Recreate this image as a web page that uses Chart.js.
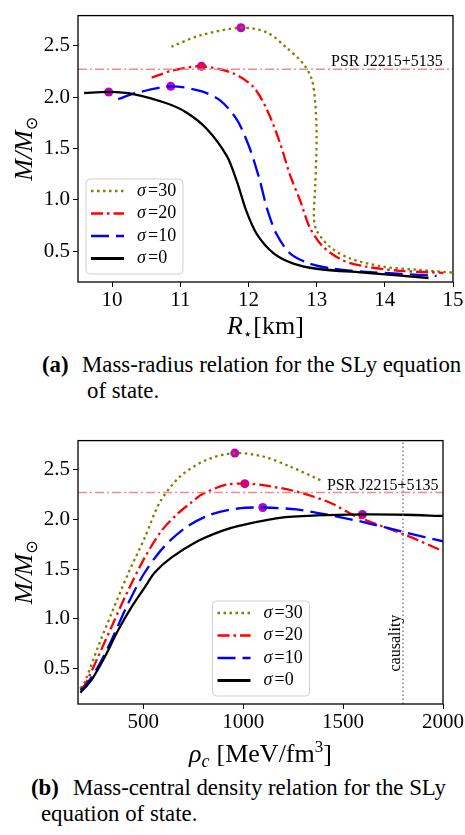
<!DOCTYPE html>
<html>
<head>
<meta charset="utf-8">
<script src="https://cdn.jsdelivr.net/npm/chart.js@4.4.0/dist/chart.umd.min.js"></script>
<style>
  body { margin: 0; width: 465px; height: 835px; background: #fff; overflow: hidden; position: relative; font-family: "Liberation Serif", serif; }
  canvas { position: absolute; left: 0; }
  .cap { position: absolute; font-size: 22.8px; line-height: 26px; white-space: nowrap; color: #000; }
</style>
</head>
<body>
<canvas id="mr" width="465" height="345" style="top:0"></canvas>
<canvas id="mrho" width="465" height="345" style="top:425px"></canvas>

<div class="cap" style="left:42px; top:352px"><b>(a)</b></div>
<div class="cap" style="left:82px; top:352px">Mass-radius relation for the SLy equation</div>
<div class="cap" style="left:87px; top:378px">of state.</div>

<div class="cap" style="left:31px; top:775px"><b>(b)</b></div>
<div class="cap" style="left:73px; top:775px">Mass-central density relation for the SLy</div>
<div class="cap" style="left:41px; top:801px">equation of state.</div>

<script>
// legend order
const sigmas = [30, 20, 10, 0];
const colors = ['#808000', '#ff0000', '#0000ff', '#000000'];
const dashes = [[2.5, 3.5], [12, 4, 2.5, 4], [18, 7], []];

// (a) mass-radius, R in km
const r30 = [10.87, 11.29, 11.89, 12.27, 12.56, 12.81, 12.93, 12.98, 13.0, 12.98, 12.96, 13.0, 13.2, 13.49, 13.98, 14.47, 15.05];
const mR30 = [2.49, 2.60, 2.675, 2.63, 2.48, 2.32, 2.17, 1.94, 1.62, 1.15, 0.83, 0.70, 0.54, 0.43, 0.35, 0.32, 0.29];
const r20 = [10.58, 10.9, 11.31, 11.78, 12.07, 12.27, 12.46, 12.61, 12.76, 12.9, 13.1, 13.39, 13.73, 14.22, 14.86];
const mR20 = [2.19, 2.26, 2.30, 2.23, 2.10, 1.88, 1.56, 1.24, 0.99, 0.73, 0.54, 0.41, 0.35, 0.31, 0.29];
const r10 = [10.09, 10.35, 10.86, 11.29, 11.58, 11.83, 12.02, 12.17, 12.27, 12.41, 12.61, 12.9, 13.25, 13.73, 14.76];
const mR10 = [1.98, 2.04, 2.105, 2.06, 1.97, 1.78, 1.50, 1.18, 0.92, 0.67, 0.48, 0.38, 0.33, 0.30, 0.26];
const r0 = [9.59, 9.95, 10.31, 10.8, 11.09, 11.39, 11.68, 11.83, 11.97, 12.12, 12.37, 12.66, 13.0, 13.73, 14.64];
const mR0 = [2.04, 2.05, 2.03, 1.94, 1.85, 1.69, 1.43, 1.18, 0.89, 0.67, 0.48, 0.38, 0.33, 0.29, 0.24];
const peakR = [11.89, 11.31, 10.86, 9.95];
const peakMR = [2.675, 2.30, 2.105, 2.05];

// (b) mass-central density, rho_c in MeV/fm^3
const rho30 = [185, 207, 273, 340, 423, 507, 582, 683, 817, 958, 1100, 1233, 1400];
const mC30 = [0.30, 0.366, 0.716, 1.05, 1.45, 1.816, 2.17, 2.43, 2.60, 2.667, 2.633, 2.533, 2.383];
const rho20 = [185, 207, 273, 340, 423, 507, 590, 673, 740, 800, 917, 1008, 1100, 1267, 1433, 1567, 1817, 2000];
const mC20 = [0.29, 0.333, 0.616, 0.916, 1.283, 1.616, 1.883, 2.06, 2.17, 2.26, 2.35, 2.36, 2.345, 2.28, 2.17, 2.03, 1.84, 1.68];
const rho10 = [185, 207, 273, 340, 423, 507, 607, 723, 840, 973, 1098, 1267, 1433, 1617, 1817, 2000];
const mC10 = [0.28, 0.316, 0.516, 0.783, 1.15, 1.466, 1.733, 1.933, 2.05, 2.11, 2.12, 2.10, 2.043, 1.966, 1.866, 1.78];
const rho0 = [185, 240, 307, 373, 440, 507, 557, 640, 773, 890, 973, 1183, 1367, 1600, 1800, 2000];
const mC0 = [0.257, 0.383, 0.616, 0.883, 1.116, 1.316, 1.466, 1.616, 1.783, 1.883, 1.933, 2.016, 2.04, 2.05, 2.047, 2.035];
const peakRho = [958, 1008, 1098, 1597];
const peakMC = [2.667, 2.36, 2.12, 2.05];

const psrMass = 2.27;
const causalRho = 1800;

const xTicksA = [10, 11, 12, 13, 14, 15];
const xTicksB = [500, 1000, 1500, 2000];
const yTicks = [0.5, 1.0, 1.5, 2.0, 2.5];

const serif = '"Liberation Serif", "DejaVu Serif", serif';

function pts(xs, ys) {
  return xs.map((x, i) => ({ x: x, y: ys[i] }));
}

function curveSets(xsList, ysList, px, py) {
  const sets = [];
  // draw black first, olive last
  for (let i = sigmas.length - 1; i >= 0; i--) {
    sets.push({
      data: pts(xsList[i], ysList[i]),
      showLine: true, pointRadius: 0,
      borderColor: colors[i], borderWidth: 2.3, borderDash: dashes[i],
      tension: 0.3, fill: false
    });
  }
  sets.push({
    data: pts(px, py), showLine: false,
    pointRadius: 4.5, pointBackgroundColor: '#bf00bf', pointBorderWidth: 0
  });
  return sets;
}

// text pieces with different fonts, centred on (x, y)
function richText(ctx, parts, x, y) {
  let w = 0;
  parts.forEach(p => { ctx.font = p.f; w += ctx.measureText(p.t).width + (p.gap || 0); });
  let cx = x - w / 2;
  ctx.textBaseline = 'alphabetic';
  ctx.textAlign = 'left';
  parts.forEach(p => {
    ctx.font = p.f;
    ctx.fillText(p.t, cx, y + (p.dy || 0));
    cx += ctx.measureText(p.t).width + (p.gap || 0);
  });
}

const framePlugin = {
  id: 'frame',
  afterDraw(chart) {
    const { ctx, chartArea: a } = chart;
    ctx.save();
    ctx.strokeStyle = '#000';
    ctx.lineWidth = 1.3;
    ctx.strokeRect(a.left, a.top, a.right - a.left, a.bottom - a.top);
    ctx.restore();
  }
};

function legendPlugin(where) {
  return {
    id: 'sigmaLegend',
    afterDraw(chart) {
      const ctx = chart.ctx;
      const box = where(chart.chartArea);
      ctx.save();
      ctx.beginPath();
      ctx.roundRect(box.x, box.y, 97, 95, 4);
      ctx.fillStyle = 'rgba(255,255,255,0.85)';
      ctx.fill();
      ctx.strokeStyle = '#d0d0d0';
      ctx.lineWidth = 1;
      ctx.stroke();
      sigmas.forEach((s, i) => {
        const yy = box.y + 12 + i * 22.5;
        ctx.beginPath();
        ctx.setLineDash(dashes[i]);
        ctx.strokeStyle = colors[i];
        ctx.lineWidth = i == 3 ? 3.2 : 2.6;
        ctx.moveTo(box.x + 5, yy);
        ctx.lineTo(box.x + 38, yy);
        ctx.stroke();
        ctx.setLineDash([]);
        ctx.fillStyle = '#000';
        ctx.textBaseline = 'middle';
        ctx.textAlign = 'left';
        ctx.font = 'italic 18px ' + serif;
        ctx.fillText('σ', box.x + 51, yy);
        ctx.font = '18px ' + serif;
        ctx.fillText('=' + s, box.x + 62, yy);
      });
      ctx.restore();
    }
  };
}

function annotate(chart, psrX) {
  const { ctx, scales } = chart;
  const yPsr = scales.y.getPixelForValue(psrMass);
  ctx.save();
  ctx.fillStyle = '#000';
  ctx.font = '16px ' + serif;
  ctx.textAlign = 'right';
  ctx.textBaseline = 'alphabetic';
  ctx.fillText('PSR J2215+5135', scales.x.getPixelForValue(psrX), yPsr - 3);
  ctx.restore();
}

function options(xmin, xmax, ymin, ymax, xTicks, pad, xH, xFmt) {
  return {
    responsive: false,
    animation: false,
    layout: { padding: pad },
    plugins: { legend: { display: false }, tooltip: { enabled: false } },
    scales: {
      x: {
        type: 'linear', min: xmin, max: xmax,
        afterBuildTicks: s => { s.ticks = xTicks.map(v => ({ value: v })); },
        afterFit: s => { s.height = xH; },
        ticks: { font: { family: serif, size: 21 }, color: '#000', padding: 1, autoSkip: false, maxRotation: 0, callback: xFmt },
        grid: { drawOnChartArea: false, tickLength: 5, color: '#000', tickColor: '#000', lineWidth: 1 },
        border: { display: false }
      },
      y: {
        type: 'linear', min: ymin, max: ymax,
        afterBuildTicks: s => { s.ticks = yTicks.map(v => ({ value: v })); },
        afterFit: s => { s.width = 78; },
        ticks: { font: { family: serif, size: 21 }, color: '#000', padding: 3, callback: v => v.toFixed(1) },
        grid: { drawOnChartArea: false, tickLength: 5, color: '#000', tickColor: '#000', lineWidth: 1 },
        border: { display: false }
      }
    }
  };
}

function psrSet(xmin, xmax) {
  return {
    data: [{ x: xmin, y: psrMass }, { x: xmax, y: psrMass }],
    showLine: true, pointRadius: 0,
    borderColor: 'rgba(240,120,120,0.85)', borderWidth: 1.5, borderDash: [9, 3, 2, 3]
  };
}

// ---------- (a) mass-radius ----------
const setsA = curveSets([r30, r20, r10, r0], [mR30, mR20, mR10, mR0], peakR, peakMR);
setsA.unshift(psrSet(9.5, 15));

new Chart(document.getElementById('mr'), {
  type: 'scatter',
  data: { datasets: setsA },
  options: options(9.5, 15, 0.201, 2.793, xTicksA, { top: 11, right: 12, left: 0, bottom: 0 }, 63, v => String(v)),
  plugins: [framePlugin, legendPlugin(a => ({ x: a.left + 8, y: a.bottom - 103 })), {
    id: 'textA',
    afterDraw(chart) {
      const ctx = chart.ctx;
      const a = chart.chartArea;
      annotate(chart, 14.85);
      ctx.save();
      ctx.fillStyle = '#000';
      richText(ctx, [
        { t: 'R', f: 'italic 26px ' + serif },
        { t: '⋆', f: '15px "DejaVu Sans", sans-serif', dy: 5, gap: 1 },
        { t: '[km]', f: '26px ' + serif }
      ], (a.left + a.right) / 2, 334);
      ctx.translate(32, (a.top + a.bottom) / 2);
      ctx.rotate(-Math.PI / 2);
      richText(ctx, [
        { t: 'M/M', f: 'italic 26px ' + serif },
        { t: '⊙', f: '16px "DejaVu Sans", sans-serif', dy: 5 }
      ], 0, 0);
      ctx.restore();
    }
  }]
});

// ---------- (b) mass-central density ----------
const setsB = curveSets([rho30, rho20, rho10, rho0], [mC30, mC20, mC10, mC0], peakRho, peakMC);
setsB.unshift(psrSet(173, 2000));
setsB.unshift({
  data: [{ x: causalRho, y: 0.143 }, { x: causalRho, y: 2.793 }],
  showLine: true, pointRadius: 0,
  borderColor: '#707070', borderWidth: 1.3, borderDash: [1.5, 2.5]
});

new Chart(document.getElementById('mrho'), {
  type: 'scatter',
  data: { datasets: setsB },
  options: options(173, 2000, 0.143, 2.793, xTicksB, { top: 14, right: 22, left: 0, bottom: 0 }, 66, v => String(v)),
  plugins: [framePlugin, legendPlugin(a => ({ x: (a.left + a.right) / 2 - 48, y: a.bottom - 103 })), {
    id: 'textB',
    afterDraw(chart) {
      const ctx = chart.ctx;
      const a = chart.chartArea;
      const sx = chart.scales.x, sy = chart.scales.y;
      annotate(chart, 1978);
      ctx.save();
      ctx.fillStyle = '#000';
      richText(ctx, [
        { t: 'ρ', f: 'italic 26px ' + serif },
        { t: 'c', f: 'italic 18px ' + serif, dy: 5, gap: 7 },
        { t: '[MeV/fm', f: '26px ' + serif },
        { t: '3', f: '17px ' + serif, dy: -10 },
        { t: ']', f: '26px ' + serif }
      ], (a.left + a.right) / 2, 337);
      ctx.save();
      ctx.translate(sx.getPixelForValue(causalRho) - 3, sy.getPixelForValue(0.47));
      ctx.rotate(-Math.PI / 2);
      ctx.font = '16px ' + serif;
      ctx.textAlign = 'left';
      ctx.textBaseline = 'alphabetic';
      ctx.fillText('causality', 0, 0);
      ctx.restore();
      ctx.translate(32, (a.top + a.bottom) / 2);
      ctx.rotate(-Math.PI / 2);
      richText(ctx, [
        { t: 'M/M', f: 'italic 26px ' + serif },
        { t: '⊙', f: '16px "DejaVu Sans", sans-serif', dy: 5 }
      ], 0, 0);
      ctx.restore();
    }
  }]
});
</script>
</body>
</html>
